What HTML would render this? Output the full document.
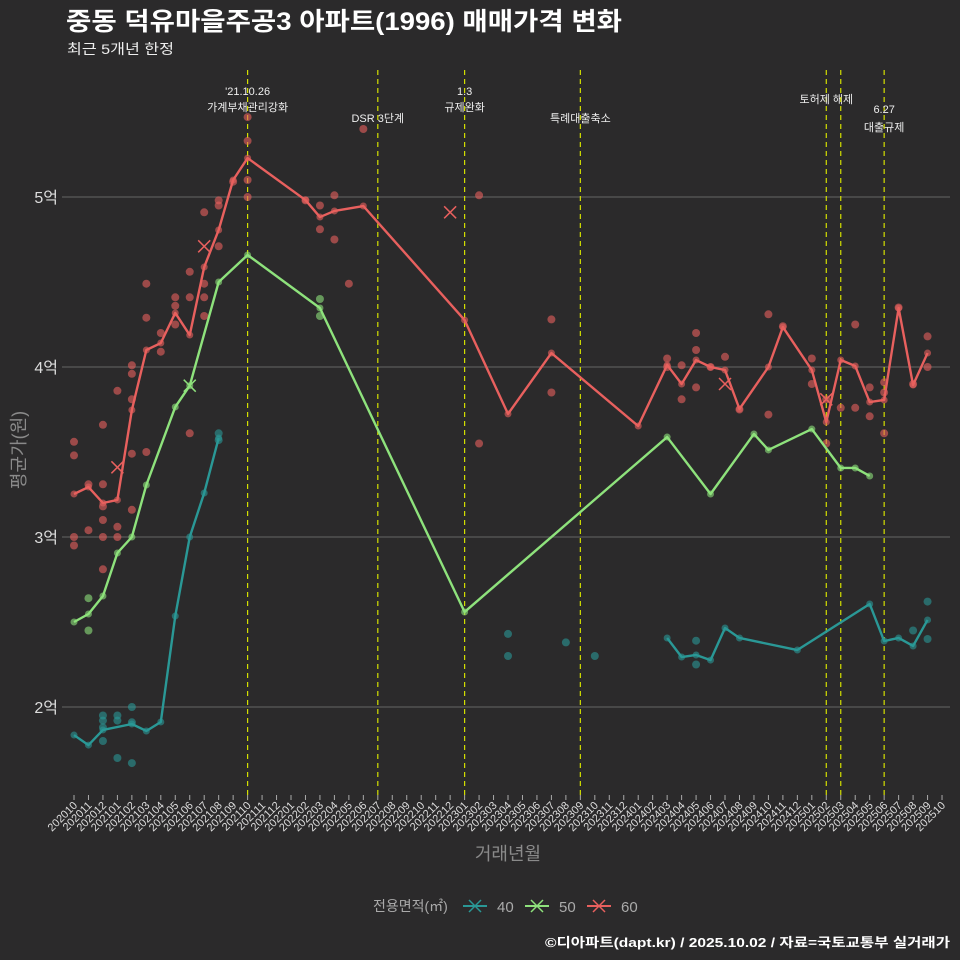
<!DOCTYPE html>
<html><head><meta charset="utf-8"><style>
body{margin:0;background:#2b2a2b;}
svg{display:block;font-family:"Liberation Sans","Noto Sans CJK KR",sans-serif;}
</style></head><body>
<svg id="chart" width="960" height="960" viewBox="0 0 960 960">
<rect width="960" height="960" fill="#2b2a2b"/>
<text x="66" y="30" font-size="25" font-weight="bold" fill="#fff" textLength="556" lengthAdjust="spacingAndGlyphs">중동 덕유마을주공3 아파트(1996) 매매가격 변화</text>
<text x="67" y="54" font-size="14" fill="#eee" textLength="107" lengthAdjust="spacingAndGlyphs">최근 5개년 한정</text>
<g id="grid"></g><g id="events"></g><g id="series"></g><g id="xaxis"></g><g id="yaxis"></g>
<text x="0" y="0" transform="translate(25,450) rotate(-90)" text-anchor="middle" font-size="18" fill="#8a8a8a">평균가(원)</text>
<text x="508" y="860" text-anchor="middle" font-size="18" fill="#8a8a8a">거래년월</text>
<g id="legend">
<text x="373" y="911" font-size="14" fill="#aaa">전용면적(㎡)</text>
</g>
<text x="950" y="947" text-anchor="end" font-size="13" font-weight="bold" fill="#fff" textLength="405" lengthAdjust="spacingAndGlyphs">©디아파트(dapt.kr) / 2025.10.02 / 자료=국토교통부 실거래가</text>
</svg>
<script>
const months=[];for(let y=2020,m=10;!(y===2025&&m>10);){months.push(y+''+(m<10?'0'+m:m));m++;if(m>12){m=1;y++;}}
const yTicks=[2,3,4,5];
const yTickLabels=['2억','3억','4억','5억'];
const s40Idx=[0,1,2,4,5,6,7,8,9,10,41,42,43,44,45,46,50,55,56,57,58,59];
const s40Val=[1.835,1.776,1.865,1.90,1.859,1.912,2.535,3.00,3.259,3.582,2.406,2.294,2.306,2.276,2.465,2.406,2.335,2.606,2.388,2.406,2.359,2.512];
const s40Seg=[0,0,0,0,0,0,0,0,0,0,1,1,1,1,1,1,1,1,1,1,1,1];
const s50Idx=[0,1,2,3,4,5,7,8,10,12,17,27,41,44,47,48,51,53,54,55];
const s50Val=[2.50,2.547,2.653,2.906,3.00,3.306,3.765,3.89,4.50,4.659,4.347,2.559,3.588,3.253,3.606,3.512,3.635,3.406,3.406,3.359];
const s60Idx=[0,1,2,3,4,5,6,7,8,9,10,11,12,16,17,18,20,27,30,33,39,41,42,43,44,45,46,48,49,51,52,53,54,55,56,57,58,59];
const s60Val=[3.253,3.294,3.20,3.218,3.747,4.10,4.141,4.318,4.188,4.588,4.806,5.10,5.229,4.982,4.882,4.918,4.947,4.276,3.724,4.082,3.653,4.012,3.90,4.041,4.00,3.982,3.753,4.00,4.235,3.982,3.676,4.041,4.006,3.794,3.806,4.347,3.894,4.082];
const d60Idx=[0,0,0,0,1,1,2,2,2,2,2,2,3,3,3,4,4,4,4,4,5,5,5,6,6,7,7,7,8,8,8,9,9,9,9,10,10,10,11,12,12,12,12,16,17,17,18,18,19,20,28,28,33,33,41,41,42,42,43,43,43,44,45,46,48,48,49,51,51,52,52,53,54,54,55,55,56,56,56,57,58,59,59];
const d60Val=[3.56,3.48,3.00,2.95,3.31,3.04,3.66,3.31,3.18,3.10,3.00,2.81,3.86,3.06,3.00,3.96,4.01,3.81,3.49,3.16,4.49,4.29,3.50,4.20,4.09,4.41,4.36,4.25,4.56,4.41,3.61,4.91,4.49,4.41,4.30,4.98,4.95,4.71,5.09,5.47,5.33,5.10,5.00,4.98,4.95,4.81,5.01,4.75,4.49,5.40,5.01,3.55,4.28,3.85,4.05,4.00,4.01,3.81,4.20,4.10,3.88,4.00,4.06,3.75,4.31,3.72,4.24,4.05,3.90,3.55,3.81,3.76,4.25,3.76,3.88,3.71,3.91,3.85,3.61,4.35,3.90,4.18,4.00];
const d50Idx=[1,1,17,17];
const d50Val=[2.64,2.45,4.40,4.30];
const d40Idx=[2,2,2,2,3,3,3,4,4,4,10,10,30,30,34,36,43,43,58,59,59];
const d40Val=[1.95,1.92,1.88,1.80,1.95,1.92,1.70,2.00,1.91,1.67,3.61,3.57,2.43,2.30,2.38,2.30,2.39,2.25,2.45,2.62,2.40];
const xMarkIdx=[3,26,8,9,45,52];
const xMarkVal=[3.41,4.91,3.89,4.71,3.90,3.81];
const xMarkSer=['60','60','50','60','60','60'];
const eventMonths=['202110','202207','202301','202309','202502','202503','202506'];
const eventLabels=[["'21.10.26","가계부채관리강화"],["DSR 3단계"],["1.3","규제완화"],["특례대출축소"],["토허제 해제"],[],["6.27","대출규제"]];
const eventLabelY=[[95,111],[122],[95,111],[122],[103],[],[113,131]];
const colors={'40':'#2a9896','50':'#8ee27c','60':'#e8605e'};
const NS='http://www.w3.org/2000/svg';
const X0=74,XS=14.467,Y5=197,PY=170;
const xs=i=>X0+i*XS;
const ys=v=>Y5+(5-v)*PY;
function mk(t,a,p){const e=document.createElementNS(NS,t);for(const k in a)e.setAttribute(k,a[k]);p.appendChild(e);return e;}
const grid=document.getElementById('grid');
yTicks.forEach((t,k)=>{
 const l=mk('line',{x1:62,x2:950,y1:ys(t),y2:ys(t),stroke:'#5a5a5a','stroke-width':1.2},grid);
 
 
 const tx=mk('text',{x:58,y:ys(t)+6,'text-anchor':'end','font-size':16,fill:'#ddd'},document.getElementById('yaxis'));
 tx.textContent=yTickLabels[k];
 
 
});
const ev=document.getElementById('events');
eventMonths.forEach((m,k)=>{
 const x=xs(months.indexOf(m));
 const l=mk('line',{x1:x,x2:x,y1:70,y2:795,stroke:'#d4e000','stroke-width':1.2,'stroke-dasharray':'5,4'},ev);
 
 
 eventLabels[k].forEach((s,j)=>{
  const t=mk('text',{x:x,y:eventLabelY[k][j],'text-anchor':'middle','font-size':11,fill:'#eee'},ev);
  t.textContent=s;
  
  
 });
});
const xa=document.getElementById('xaxis');
months.forEach((m,i)=>{
 const x=xs(i);
 const l=mk('line',{x1:x,x2:x,y1:795,y2:800,stroke:'#aaa','stroke-width':1},xa);
 
 
 const t=mk('text',{x:0,y:0,transform:`translate(${x+4},${806}) rotate(-45)`,'text-anchor':'end','font-size':11,fill:'#ddd'},xa);
 t.textContent=m;
 
 
});
const sg=document.getElementById('series');
function dots(idx,val,c,name){idx.forEach((i,k)=>{const d=mk('circle',{cx:xs(i),cy:ys(val[k]),r:4,fill:c,'fill-opacity':0.6},sg);
 
 });}
dots(d40Idx,d40Val,colors['40'],'dot-40');
dots(d50Idx,d50Val,colors['50'],'dot-50');
dots(d60Idx,d60Val,colors['60'],'dot-60');
function line(idx,val,c,name,seg){
 const segs={};
 idx.forEach((i,k)=>{const s=seg?seg[k]:0;(segs[s]=segs[s]||[]).push(xs(i)+','+ys(val[k]));});
 Object.keys(segs).forEach(s=>{
  const p=mk('polyline',{points:segs[s].join(' '),fill:'none',stroke:c,'stroke-width':2.4,'stroke-linejoin':'round'},sg);
  
  
 });
 idx.forEach((i,k)=>{const d=mk('circle',{cx:xs(i),cy:ys(val[k]),r:3.5,fill:c,'fill-opacity':0.6},sg);
 
 });
}
line(s40Idx,s40Val,colors['40'],'line-40',s40Seg);
line(s50Idx,s50Val,colors['50'],'line-50');
line(s60Idx,s60Val,colors['60'],'line-60');
xMarkIdx.forEach((i,k)=>{const x=xs(i),y=ys(xMarkVal[k]),c=colors[xMarkSer[k]];
 const p=mk('path',{d:`M${x-6},${y-6}L${x+6},${y+6}M${x-6},${y+6}L${x+6},${y-6}`,stroke:c,'stroke-width':1.5},sg);
 
 });
const lg=document.getElementById('legend');
['40','50','60'].forEach((s,k)=>{const x=463+k*62;
 const g=mk('g',{},lg);
 
 
 mk('line',{x1:x,x2:x+24,y1:906,y2:906,stroke:colors[s],'stroke-width':2},g);
 mk('path',{d:`M${x+6},${900}L${x+18},${912}M${x+6},${912}L${x+18},${900}`,stroke:colors[s],'stroke-width':1.5},g);
 const t=mk('text',{x:x+34,y:912,'font-size':15,fill:'#aaa'},g);t.textContent=s;});
</script>
</body></html>
